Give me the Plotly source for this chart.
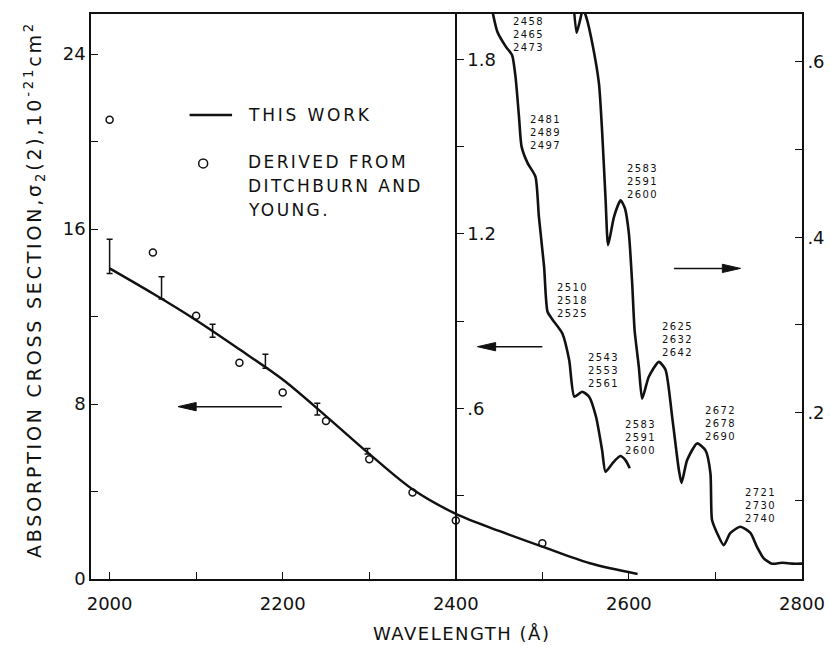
import plotly.graph_objects as go

# ---------------- data ----------------
# "THIS WORK" smooth curve (left axis, 1e-21 cm^2)
wl_curve = [2000, 2050, 2100, 2150, 2200, 2250, 2300, 2350, 2400, 2450, 2500, 2555, 2610]
sigma_curve = [14.2, 13.05, 11.83, 10.5, 9.12, 7.45, 5.72, 4.1, 2.98, 2.2, 1.48, 0.72, 0.23]

# error bars of this work
wl_err = [2000, 2060, 2119, 2180, 2240, 2298]
err_mid = [14.75, 13.31, 11.35, 9.95, 7.77, 5.84]
err_half = [0.78, 0.51, 0.30, 0.32, 0.27, 0.13]

# derived from Ditchburn and Young
wl_dy = [2000, 2050, 2100, 2150, 2200, 2250, 2300, 2350, 2400, 2500]
sigma_dy = [21.0, 14.93, 12.04, 9.89, 8.53, 7.22, 5.47, 3.95, 2.67, 1.63]

# structured spectrum, middle scale
wl_mid = [2440, 2448, 2458, 2465, 2469, 2473, 2476, 2483, 2492, 2496, 2502, 2506, 2512,
          2523, 2531, 2537, 2546, 2554, 2562, 2569, 2573, 2581, 2590, 2596, 2601]
sig_mid = [2.0, 1.895, 1.843, 1.815, 1.740, 1.603, 1.500, 1.443, 1.397, 1.259, 1.087, 0.932, 0.904,
           0.858, 0.766, 0.640, 0.657, 0.640, 0.571, 0.457, 0.382, 0.411, 0.436, 0.422, 0.394]

# structured spectrum, right scale
wl_right = [2535, 2539.5, 2543, 2547, 2551, 2557.7, 2565.4, 2569.2, 2573.1, 2576, 2582.7, 2590.4,
            2595.4, 2600, 2603.8, 2606.6, 2611.5, 2615.3, 2623, 2634.6, 2642.3, 2650, 2657.7,
            2660.8, 2667.3, 2678.8, 2688.5, 2694.2, 2696, 2701.8, 2709.5, 2717.3, 2728.8,
            2740.4, 2748, 2755.8, 2765.3, 2776.9, 2788.4, 2800]
sig_right = [0.68, 0.633, 0.645, 0.66, 0.65, 0.621, 0.575, 0.518, 0.442, 0.391, 0.423, 0.442,
             0.433, 0.404, 0.347, 0.294, 0.252, 0.216, 0.241, 0.258, 0.249, 0.195, 0.135,
             0.120, 0.146, 0.165, 0.157, 0.131, 0.078, 0.063, 0.049, 0.063, 0.070,
             0.063, 0.047, 0.034, 0.028, 0.029, 0.028, 0.028]

# band labels: (three wavelengths, anchor wavelength, anchor left-axis value of block centre)
band_labels = [
    (["2458", "2465", "2473"], 2465.0, 24.90),
    (["2481", "2489", "2497"], 2484.6, 20.39),
    (["2583", "2591", "2600"], 2596.5, 18.15),
    (["2510", "2518", "2525"], 2515.8, 12.75),
    (["2625", "2632", "2642"], 2636.9, 10.93),
    (["2543", "2553", "2561"], 2551.5, 9.51),
    (["2583", "2591", "2600"], 2594.2, 6.49),
    (["2672", "2678", "2690"], 2686.5, 7.09),
    (["2721", "2730", "2740"], 2732.7, 3.34),
]

x_ticks = [2000, 2200, 2400, 2600, 2800]
x_ticktext = ["2000", "2200", "2400", "2600", "2800"]
x_minor = [2100, 2300, 2500, 2700]
y_ticks = [0, 8, 16, 24]
y_ticktext = ["0", "8", "16", "24"]
y_minor = [4, 12, 20]
y2_ticks = [0.6, 1.2, 1.8]
y2_ticktext = [".6", "1.2", "1.8"]
y2_minor = [0.3, 0.9, 1.5]
y3_ticks = [0.2, 0.4, 0.6]
y3_ticktext = [".2", ".4", ".6"]
y3_minor = [0.1, 0.3, 0.5]

FONT = "DejaVu Sans"
INK = "#111111"

def spaced(s, px):
    return '<span style="letter-spacing:%spx">%s</span>' % (px, s)

fig = go.Figure()

fig.add_trace(go.Scatter(x=wl_curve, y=sigma_curve, mode="lines",
                         line=dict(color=INK, width=2.4, shape="spline", smoothing=0.9),
                         showlegend=False, hoverinfo="skip"))
fig.add_trace(go.Scatter(x=wl_err, y=err_mid, mode="markers",
                         marker=dict(size=1, color="rgba(0,0,0,0)"),
                         error_y=dict(type="data", array=err_half, color=INK, thickness=1.5, width=3),
                         showlegend=False, hoverinfo="skip"))
fig.add_trace(go.Scatter(x=wl_dy, y=sigma_dy, mode="markers",
                         marker=dict(symbol="circle-open", size=7, color=INK, line=dict(width=1.5)),
                         showlegend=False, hoverinfo="skip"))
fig.add_trace(go.Scatter(x=wl_mid, y=sig_mid, mode="lines", yaxis="y2",
                         line=dict(color=INK, width=2.6, shape="spline", smoothing=0.6),
                         showlegend=False, hoverinfo="skip"))
fig.add_trace(go.Scatter(x=wl_right, y=sig_right, mode="lines", yaxis="y3",
                         line=dict(color=INK, width=2.6, shape="spline", smoothing=0.6),
                         showlegend=False, hoverinfo="skip"))

x_range = [1978.5, 2800]
mid_pos = (2400 - x_range[0]) / (x_range[1] - x_range[0])

tickfont = dict(family=FONT, size=18, color=INK)
common = dict(showgrid=False, zeroline=False, showline=True, linecolor=INK, linewidth=1.6,
              ticklen=7, tickwidth=1.3, tickcolor=INK, tickfont=tickfont, automargin=False)
fig.update_layout(
    width=830, height=645,
    margin=dict(l=91, r=28, t=14, b=66),
    paper_bgcolor="white", plot_bgcolor="white",
    showlegend=False,
    xaxis=dict(range=x_range, mirror=True, ticks="inside", tickmode="array",
               tickvals=x_ticks, ticktext=x_ticktext, ticklabelstandoff=8,
               minor=dict(tickmode="array", tickvals=x_minor, ticks="inside", ticklen=7,
                          tickwidth=1.3, tickcolor=INK, showgrid=False),
               **common),
    yaxis=dict(range=[0, 25.83], ticks="inside", tickmode="array",
               tickvals=y_ticks, ticktext=y_ticktext,
               minor=dict(tickmode="array", tickvals=y_minor, ticks="inside", ticklen=7,
                          tickwidth=1.3, tickcolor=INK, showgrid=False),
               **common),
    yaxis2=dict(range=[0.013, 1.956], overlaying="y", anchor="free", position=mid_pos,
                side="right", ticks="outside", tickmode="array",
                tickvals=y2_ticks, ticktext=y2_ticktext,
                minor=dict(tickmode="array", tickvals=y2_minor, ticks="outside", ticklen=7,
                           tickwidth=1.3, tickcolor=INK, showgrid=False),
                **common),
    yaxis3=dict(range=[0.0105, 0.6544], overlaying="y", anchor="x", side="right",
                ticks="inside", tickmode="array", tickvals=y3_ticks, ticktext=y3_ticktext,
                minor=dict(tickmode="array", tickvals=y3_minor, ticks="inside", ticklen=7,
                           tickwidth=1.3, tickcolor=INK, showgrid=False),
                **common),
)

annotations = []
for lines, ax_x, ax_y in band_labels:
    annotations.append(dict(x=ax_x, y=ax_y, xref="x", yref="y",
                            text=spaced("<br>".join(lines), 1.4),
                            showarrow=False, xanchor="left", yanchor="middle", align="left",
                            borderpad=0,
                            font=dict(family=FONT, size=10, color=INK)))

# legend (drawn manually)
leg_font = dict(family=FONT, size=17, color=INK)
annotations.append(dict(x=2157.7, y=21.21, xref="x", yref="y", text=spaced("THIS WORK", 2.8),
                        showarrow=False, xanchor="left", yanchor="middle", font=leg_font))
for i, t in enumerate(["DERIVED FROM", "DITCHBURN AND", "YOUNG."]):
    annotations.append(dict(x=2157.7, y=19.08, xref="x", yref="y", text=spaced(t, 2.4),
                            showarrow=False, xanchor="left", yanchor="middle",
                            yshift=-24 * i, font=leg_font))

# axis titles
annotations.append(dict(x=(34 - 91) / 711, y=(579 - 290) / 565, xref="paper", yref="paper",
                        text=spaced("ABSORPTION CROSS SECTION,σ<sub>2</sub>(2),10<sup>-21</sup>cm<sup>2</sup>", 2.8),
                        textangle=-90, showarrow=False, xanchor="center", yanchor="middle",
                        font=dict(family=FONT, size=19, color=INK)))
annotations.append(dict(x=(461.5 - 91) / 711, y=(579 - 633) / 565, xref="paper", yref="paper",
                        text=spaced("WAVELENGTH (Å)", 1.5), showarrow=False, borderpad=0,
                        xanchor="center", yanchor="middle",
                        font=dict(family=FONT, size=18, color=INK)))
fig.update_layout(annotations=annotations)

shapes = []
# legend line and circle
shapes.append(dict(type="line", xref="x", yref="y", x0=2092.4, x1=2141.5, y0=21.21, y1=21.21,
                   line=dict(color=INK, width=2.4)))
shapes.append(dict(type="circle", xref="x", yref="y", xsizemode="pixel", ysizemode="pixel",
                   xanchor=2108.1, yanchor=19.0, x0=-4.5, x1=4.5, y0=-4.5, y1=4.5,
                   line=dict(color=INK, width=1.5)))

# arrows: (tail wavelength, tip wavelength, left-axis level)
arrows = [(2199, 2079, 7.88), (2500, 2425, 10.62), (2652, 2729, 14.2)]
head_len = 21.0   # in wavelength units (~18 px)
head_half = 0.19  # in left-axis units (~4 px)
for tail, tip, lvl in arrows:
    d = 1 if tip > tail else -1
    base = tip - d * head_len
    shapes.append(dict(type="line", xref="x", yref="y", x0=tail, x1=base, y0=lvl, y1=lvl,
                       line=dict(color=INK, width=1.5)))
    shapes.append(dict(type="path", xref="x", yref="y",
                       path="M %f %f L %f %f L %f %f Z" % (tip, lvl, base, lvl + head_half, base, lvl - head_half),
                       fillcolor=INK, line=dict(color=INK, width=1)))
fig.update_layout(shapes=shapes)

fig.write_html("out.html", config={"displayModeBar": False},
               post_script="document.body.style.margin='0';document.body.style.overflow='hidden';")
